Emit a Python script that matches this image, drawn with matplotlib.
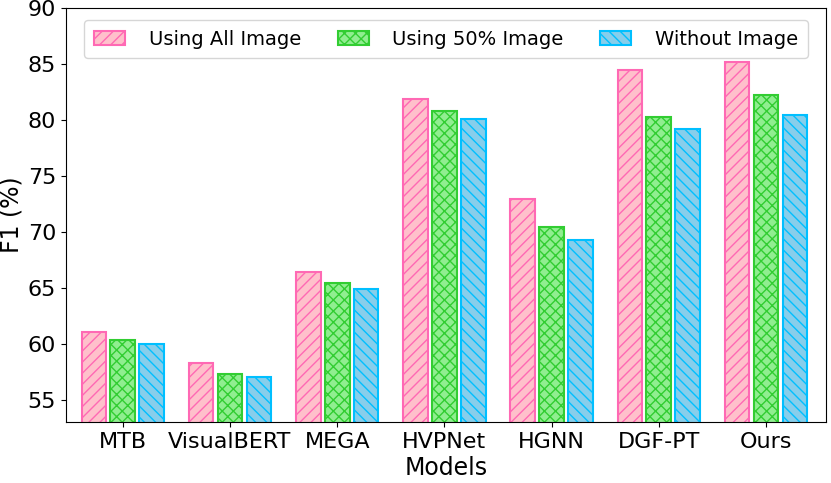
import numpy as np
import matplotlib.pyplot as plt

# ============================================================
# Data
# ============================================================

models = ["MTB", "VisualBERT", "MEGA", "HVPNet", "HGNN", "DGF-PT", "Ours"]

all_image = [61.0, 58.3, 66.4, 81.9, 72.9, 84.5, 85.2]
half_image = [60.3, 57.3, 65.4, 80.8, 70.4, 80.3, 82.2]
no_image = [60.0, 57.0, 64.9, 80.1, 69.3, 79.2, 80.4]

series_labels = ["Using All Image", "Using 50% Image", "Without Image"]

# ============================================================
# Figure
# ============================================================

fig = plt.figure(figsize=(8.31, 4.83), dpi=100)
ax = fig.add_axes([0.0794, 0.1263, 0.9146, 0.8571])

x = np.arange(len(models))
width = 0.23
offset = 0.27

styles = [
    ("pink", "hotpink", "///"),
    ("lightgreen", "limegreen", "xxx"),
    ("skyblue", "deepskyblue", "\\\\\\"),
]

for i, (vals, label) in enumerate(zip([all_image, half_image, no_image], series_labels)):
    face, edge, hatch = styles[i]
    ax.bar(
        x + (i - 1) * offset,
        vals,
        width=width,
        color=face,
        edgecolor=edge,
        hatch=hatch,
        linewidth=1.5,
        label=label,
    )

ax.set_ylim(53, 90)
ax.set_xlim(-0.53, 6.56)
ax.set_yticks([55, 60, 65, 70, 75, 80, 85, 90])

ax.set_xticks(x)
ax.set_xticklabels(models)
ax.tick_params(axis="both", labelsize=16)

ax.set_xlabel("Models", fontsize=17, labelpad=3)
ax.set_ylabel("F1 (%)", fontsize=17, labelpad=3)

ax.legend(
    loc="upper center",
    ncol=3,
    fontsize=14,
    bbox_to_anchor=(0.5, 0.995),
    columnspacing=1.9,
    handlelength=1.6,
    handletextpad=1.2,
    borderpad=0.5,
)

plt.savefig("out.png", dpi=100)
plt.close()
